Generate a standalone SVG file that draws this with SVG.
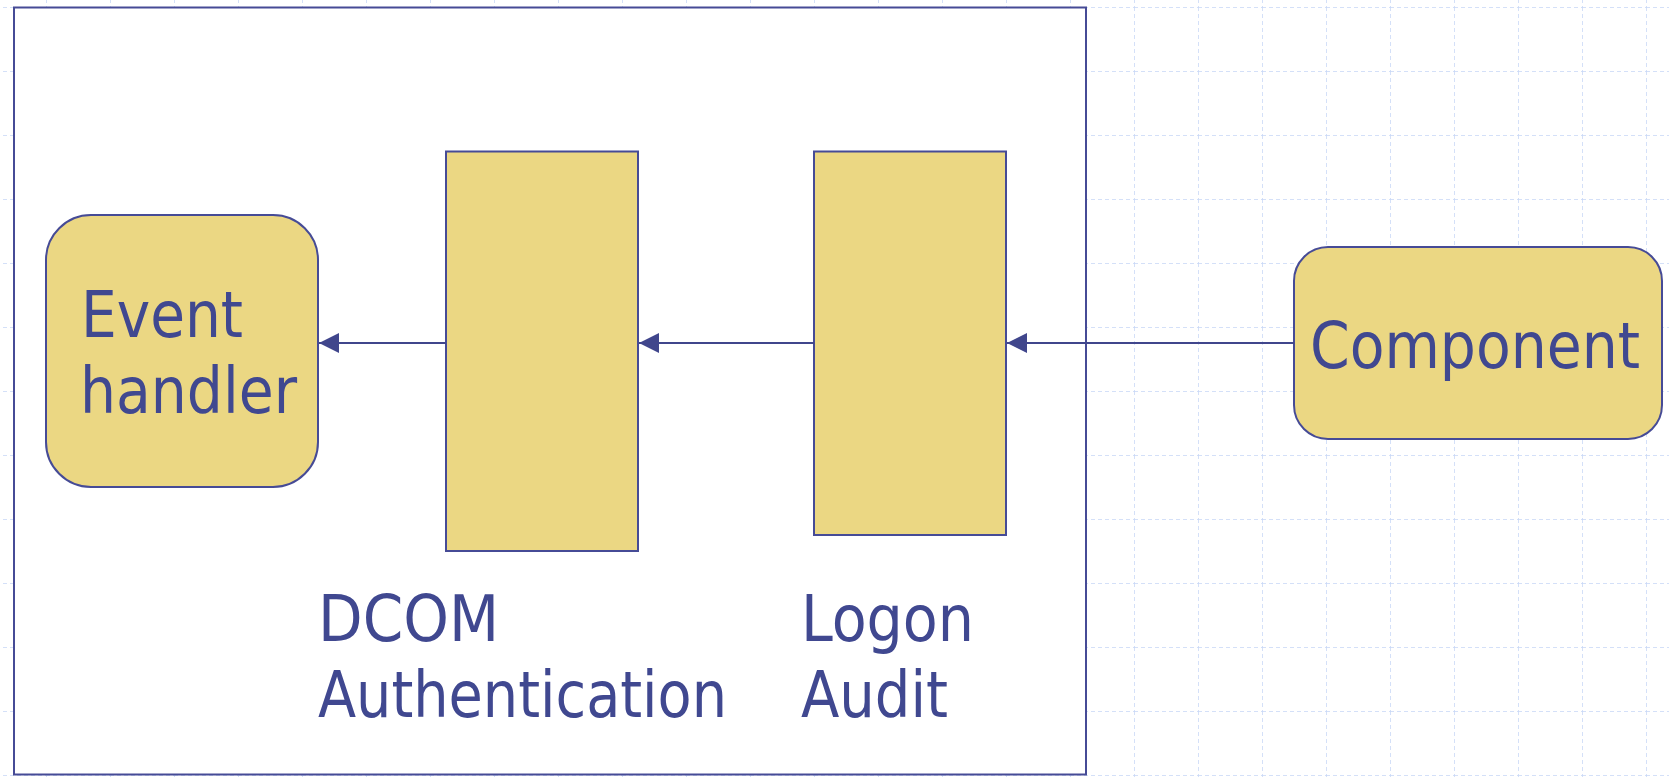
<svg xmlns="http://www.w3.org/2000/svg" width="1669" height="777" viewBox="0 0 1669 777">
<defs>
<pattern id="grid" x="46" y="7" width="64" height="64" patternUnits="userSpaceOnUse">
<line x1="0" y1="0" x2="64" y2="0" stroke="#c6d6f6" stroke-width="1.5" stroke-dasharray="4 3"/>
<line x1="0" y1="0" x2="0" y2="64" stroke="#c6d6f6" stroke-width="1.5" stroke-dasharray="4 3"/>
</pattern>
<marker id="arr" markerWidth="20" markerHeight="20" refX="20" refY="10" orient="auto" markerUnits="userSpaceOnUse" viewBox="0 0 20 20">
<path d="M20,10 L0,0 L0,20 Z" fill="#40468c"/>
</marker>
<style>
.node{fill:#ebd783;stroke:#464b96;stroke-width:2}
.lbl{font-family:"DejaVu Sans Condensed","DejaVu Sans",sans-serif;font-size:64px;fill:#404890}
.conn{stroke:#40468c;stroke-width:2;fill:none}
</style>
</defs>
<rect width="1669" height="777" fill="#ffffff"/>
<rect width="1669" height="777" fill="url(#grid)"/>
<rect id="frame" x="14" y="7.5" width="1072" height="767" fill="#ffffff" stroke="#464b96" stroke-width="2"/>
<g id="event-handler">
<rect class="node" x="46" y="215" width="272" height="272" rx="45" ry="45"/>
<text class="lbl" x="81" y="337" textLength="162" lengthAdjust="spacingAndGlyphs">Event</text>
<text class="lbl" x="80" y="413" textLength="217" lengthAdjust="spacingAndGlyphs">handler</text>
</g>
<g id="dcom">
<rect class="node" x="446" y="151.5" width="192" height="399.5"/>
<text class="lbl" x="318" y="641" textLength="181" lengthAdjust="spacingAndGlyphs">DCOM</text>
<text class="lbl" x="318" y="717" textLength="409" lengthAdjust="spacingAndGlyphs">Authentication</text>
</g>
<g id="logon">
<rect class="node" x="814" y="151.5" width="192" height="383.5"/>
<text class="lbl" x="801" y="641" textLength="173" lengthAdjust="spacingAndGlyphs">Logon</text>
<text class="lbl" x="801" y="717" textLength="147" lengthAdjust="spacingAndGlyphs">Audit</text>
</g>
<g id="component">
<rect class="node" x="1294" y="247" width="368" height="192" rx="34" ry="34"/>
<text class="lbl" x="1310" y="368" textLength="330" lengthAdjust="spacingAndGlyphs">Component</text>
</g>
<g id="connectors">
<line class="conn" x1="446" y1="343" x2="319" y2="343" marker-end="url(#arr)"/>
<line class="conn" x1="814" y1="343" x2="639" y2="343" marker-end="url(#arr)"/>
<line class="conn" x1="1294" y1="343" x2="1007" y2="343" marker-end="url(#arr)"/>
</g>
</svg>
